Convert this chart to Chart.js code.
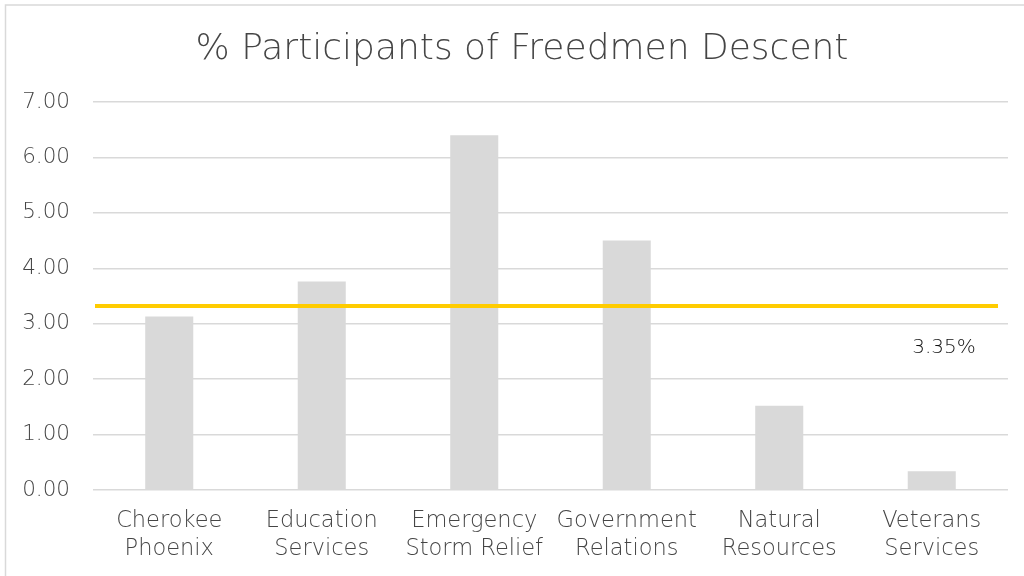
<!DOCTYPE html>
<html>
<head>
<meta charset="utf-8">
<script src="https://cdn.jsdelivr.net/npm/chart.js@4"></script>
<style>
  html, body { margin: 0; padding: 0; background: #fff; }
  #wrap { width: 1024px; height: 576px; }
</style>
</head>
<body>
<div id="wrap"><canvas id="chart" width="1024" height="576"></canvas></div>
<script>
// data
var categories = [
    ['Cherokee', 'Phoenix'],
    ['Education', 'Services'],
    ['Emergency', 'Storm Relief'],
    ['Government', 'Relations'],
    ['Natural', 'Resources'],
    ['Veterans', 'Services']
];
var percentValues = [3.13, 3.76, 6.40, 4.50, 1.52, 0.34];
var averageValue = 3.32;
var averageLabel = '3.35%';
var yTicks = [0, 1, 2, 3, 4, 5, 6, 7];

var fontName = '"DejaVu Sans", sans-serif';
var textGrey = '#454545';

// frame round the whole chart
var framePlugin = {
    id: 'frame',
    afterLayout: function(chart) {
        // title sits centred over the plot rather than the whole box
        if (chart.titleBlock) chart.titleBlock.left += 30;
    },
    beforeDraw: function(chart) {
        var ctx = chart.ctx;
        ctx.save();
        ctx.fillStyle = '#fff';
        ctx.fillRect(0, 0, chart.width, chart.height);
        ctx.strokeStyle = '#d9d9d9';
        ctx.lineWidth = 1.5;
        ctx.strokeRect(5.5, 5, chart.width + 20, chart.height + 20);
        ctx.restore();
    }
};

// yellow average line + its label
var averagePlugin = {
    id: 'averageLine',
    afterDatasetsDraw: function(chart) {
        var ctx = chart.ctx;
        var area = chart.chartArea;
        var y = chart.scales.y.getPixelForValue(averageValue);
        ctx.save();
        ctx.strokeStyle = '#ffcc00';
        ctx.lineWidth = 4;
        ctx.beginPath();
        ctx.moveTo(area.left + 2, y);
        ctx.lineTo(area.right - 10, y);
        ctx.stroke();
        ctx.fillStyle = '#111';
        ctx.font = '200 20px ' + fontName;
        ctx.textAlign = 'center';
        ctx.textBaseline = 'middle';
        ctx.fillText(averageLabel, area.right - 64, y + 42);
        ctx.restore();
    }
};

var myChart = new Chart(document.getElementById('chart'), {
    type: 'bar',
    data: {
        labels: categories,
        datasets: [{
            data: percentValues,
            backgroundColor: '#d9d9d9',
            barPercentage: 0.315,
            categoryPercentage: 1
        }]
    },
    options: {
        responsive: false,
        animation: false,
        layout: { padding: { top: 12, left: 6, right: 16, bottom: 0 } },
        plugins: {
            legend: { display: false },
            tooltip: { enabled: false },
            title: {
                display: true,
                text: '% Participants of Freedmen Descent',
                color: textGrey,
                font: { family: fontName, size: 36, weight: 200 },
                padding: { top: 16, bottom: 30.8 }
            }
        },
        scales: {
            x: {
                grid: { display: false, drawTicks: false },
                border: { display: false },
                ticks: {
                    color: textGrey,
                    font: { family: fontName, size: 22.5, weight: 200, lineHeight: 1.25 },
                    padding: 17,
                    maxRotation: 0,
                    autoSkip: false
                },
                afterFit: function(scale) { scale.height = 86; }
            },
            y: {
                min: 0,
                max: 7,
                afterBuildTicks: function(scale) {
                    scale.ticks = yTicks.map(function(v) { return { value: v }; });
                },
                grid: { color: '#d9d9d9', lineWidth: 1.5, drawTicks: false },
                border: { display: false },
                ticks: {
                    color: textGrey,
                    font: { family: fontName, size: 21.5, weight: 200 },
                    padding: 23,
                    callback: function(v) { return Number(v).toFixed(2); }
                },
                afterFit: function(scale) { scale.width = 87; }
            }
        }
    },
    plugins: [framePlugin, averagePlugin]
});
</script>
</body>
</html>
